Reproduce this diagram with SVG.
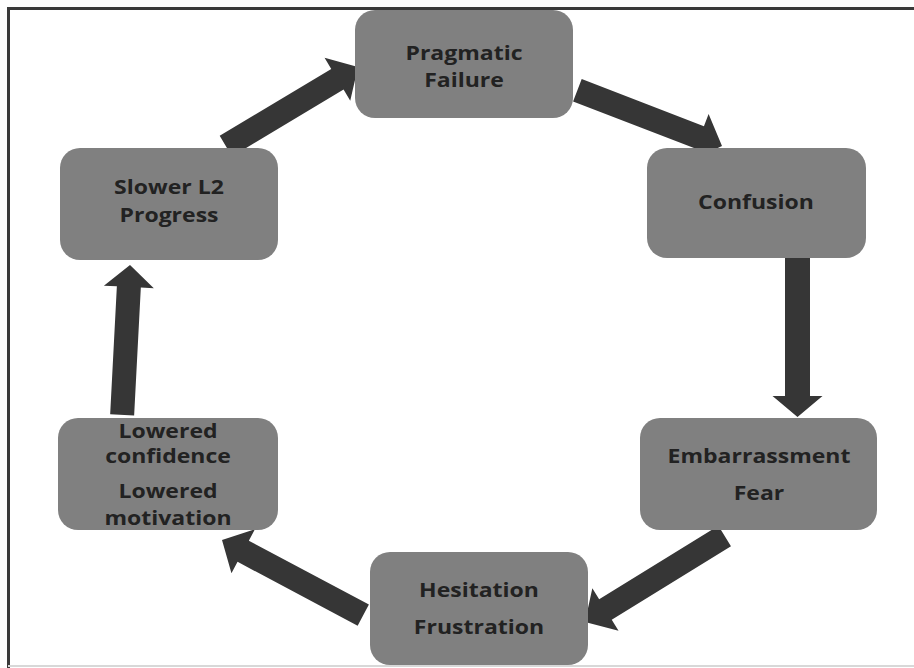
<svg xmlns="http://www.w3.org/2000/svg" width="914" height="668" viewBox="0 0 914 668">
<style>
.node{fill:#808080}
.lbl{font-family:"Open Sans","Liberation Sans",sans-serif;font-weight:bold;font-size:20px;fill:#222222;text-anchor:middle}
.arr{fill:#363636}
</style>
<rect x="0" y="0" width="914" height="668" fill="#ffffff"/>
<path d="M8.5,668 V8.5 H914" fill="none" stroke="#3a3a3a" stroke-width="3"/>
<line x1="8" y1="666" x2="914" y2="666" stroke="#d8d8d8" stroke-width="2"/>
<g id="connectors">
<polygon class="arr" transform="translate(358,67) rotate(-30.9)" points="0,0 -24,-25 -24,-12 -154,-12 -154,12 -24,12 -24,25"/>
<polygon class="arr" transform="translate(722,146) rotate(21.1)" points="0,0 -24,-25 -24,-12 -155,-12 -155,12 -24,12 -24,25"/>
<polygon class="arr" transform="translate(797.5,417) rotate(90)" points="0,0 -21,-25 -21,-12.5 -159,-12.5 -159,12.5 -21,12.5 -21,25"/>
<polygon class="arr" transform="translate(585,622) rotate(148.4)" points="0,0 -24,-25 -24,-12 -164,-12 -164,12 -24,12 -24,25"/>
<polygon class="arr" transform="translate(222,540) rotate(-152)" points="0,0 -24,-25 -24,-12 -160,-12 -160,12 -24,12 -24,25"/>
<polygon class="arr" transform="translate(130,265) rotate(-87)" points="0,0 -22,-25 -22,-12 -150,-12 -150,12 -22,12 -22,25"/>
</g>
<g id="n1"><rect class="node" x="355" y="10" width="218" height="108" rx="20"/>
<text class="lbl" transform="matrix(1.15,0,0,1,464,60)">Pragmatic</text><text class="lbl" transform="matrix(1.15,0,0,1,464,87)">Failure</text></g>
<g id="n2"><rect class="node" x="647" y="148" width="219" height="110" rx="20"/>
<text class="lbl" transform="matrix(1.15,0,0,1,756,209)">Confusion</text></g>
<g id="n3"><rect class="node" x="640" y="418" width="237" height="112" rx="20"/>
<text class="lbl" transform="matrix(1.15,0,0,1,759,463)">Embarrassment</text><text class="lbl" transform="matrix(1.15,0,0,1,759,500)">Fear</text></g>
<g id="n4"><rect class="node" x="370" y="552" width="218" height="113" rx="20"/>
<text class="lbl" transform="matrix(1.15,0,0,1,479,597)">Hesitation</text><text class="lbl" transform="matrix(1.15,0,0,1,479,634)">Frustration</text></g>
<g id="n5"><rect class="node" x="58" y="418" width="220" height="112" rx="20"/>
<text class="lbl" transform="matrix(1.15,0,0,1,168,438)">Lowered</text><text class="lbl" transform="matrix(1.15,0,0,1,168,463)">confidence</text><text class="lbl" transform="matrix(1.15,0,0,1,168,498)">Lowered</text><text class="lbl" transform="matrix(1.15,0,0,1,168,525)">motivation</text></g>
<g id="n6"><rect class="node" x="60" y="148" width="218" height="112" rx="20"/>
<text class="lbl" transform="matrix(1.15,0,0,1,169,194)">Slower L2</text><text class="lbl" transform="matrix(1.15,0,0,1,169,222)">Progress</text></g>
</svg>
